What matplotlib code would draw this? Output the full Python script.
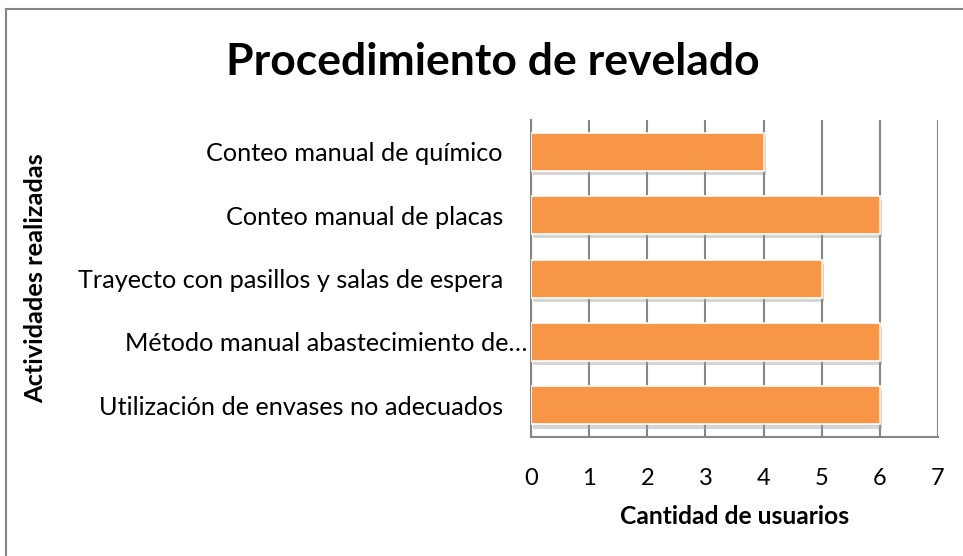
import matplotlib.pyplot as plt
import matplotlib.patheffects as pe
from matplotlib.lines import Line2D
from matplotlib.transforms import blended_transform_factory, offset_copy

# data (top to bottom)
actividades = ["Conteo manual de químico",
               "Conteo manual de placas",
               "Trayecto con pasillos y salas de espera",
               "Método manual abastecimiento de…",
               "Utilización de envases no adecuados"]
usuarios = [4, 6, 5, 6, 6]
x_ticks = [0, 1, 2, 3, 4, 5, 6, 7]

plt.rcParams['font.family'] = ['Lato', 'DejaVu Sans']

fig = plt.figure(figsize=(9.63, 5.56), dpi=100)
ax = fig.add_axes([0.5514, 0.214, 0.4226, 0.570])

# categories from top to bottom
pos = list(range(len(actividades)))[::-1]
bars = ax.barh(pos, usuarios, height=0.6, color='#F79646', edgecolor='white',
               linewidth=1.2, zorder=3)
for b in bars:
    b.set_path_effects([pe.SimplePatchShadow(offset=(1.5, -3), shadow_rgbFace='#9a9a9a', alpha=0.4),
                        pe.Normal()])

ax.set_xlim(0, 7)
ax.set_ylim(-0.5, len(actividades) - 0.5)
ax.set_xticks(x_ticks)
ax.set_xticklabels([str(t) for t in x_ticks], fontsize=17)
ax.set_yticks(pos)
ax.set_yticklabels([])
ax.tick_params(axis='x', length=0, pad=22)
ax.tick_params(axis='y', length=0)

# category labels (Excel keeps a trailing space on the untruncated ones)
trans = blended_transform_factory(ax.transAxes, ax.transData)
for p, name in zip(pos, actividades):
    shift = -4 if name.endswith('…') else -28
    ax.text(0, p, name, fontsize=18.2, ha='right', va='center_baseline',
            transform=offset_copy(trans, fig=fig, x=shift, y=0, units='dots'))

ax.grid(axis='x', color='#868686', linewidth=1.5, zorder=0)
ax.set_axisbelow(True)
for side in ['top', 'right']:
    ax.spines[side].set_visible(False)
ax.spines['left'].set_color('#868686')
ax.spines['bottom'].set_color('#868686')
ax.spines['left'].set_linewidth(1.5)
ax.spines['bottom'].set_linewidth(1.5)

ax.set_xlabel("Cantidad de usuarios", fontsize=17.7, fontweight='bold', labelpad=12)
fig.text(0.037, 0.50, "Actividades realizadas", rotation=90, fontsize=18.3,
         fontweight='bold', ha='center', va='center')
fig.text(0.512, 0.888, "Procedimiento de revelado", fontsize=32,
         fontweight='bold', ha='center', va='center')

# chart border (only left and top visible in crop)
fig.add_artist(Line2D([0.0065, 0.0065], [0, 0.984], transform=fig.transFigure,
                      color='#868686', linewidth=1.5))
fig.add_artist(Line2D([0.0065, 1.0], [0.984, 0.984], transform=fig.transFigure,
                      color='#868686', linewidth=1.5))

fig.savefig("out.png", dpi=100)
